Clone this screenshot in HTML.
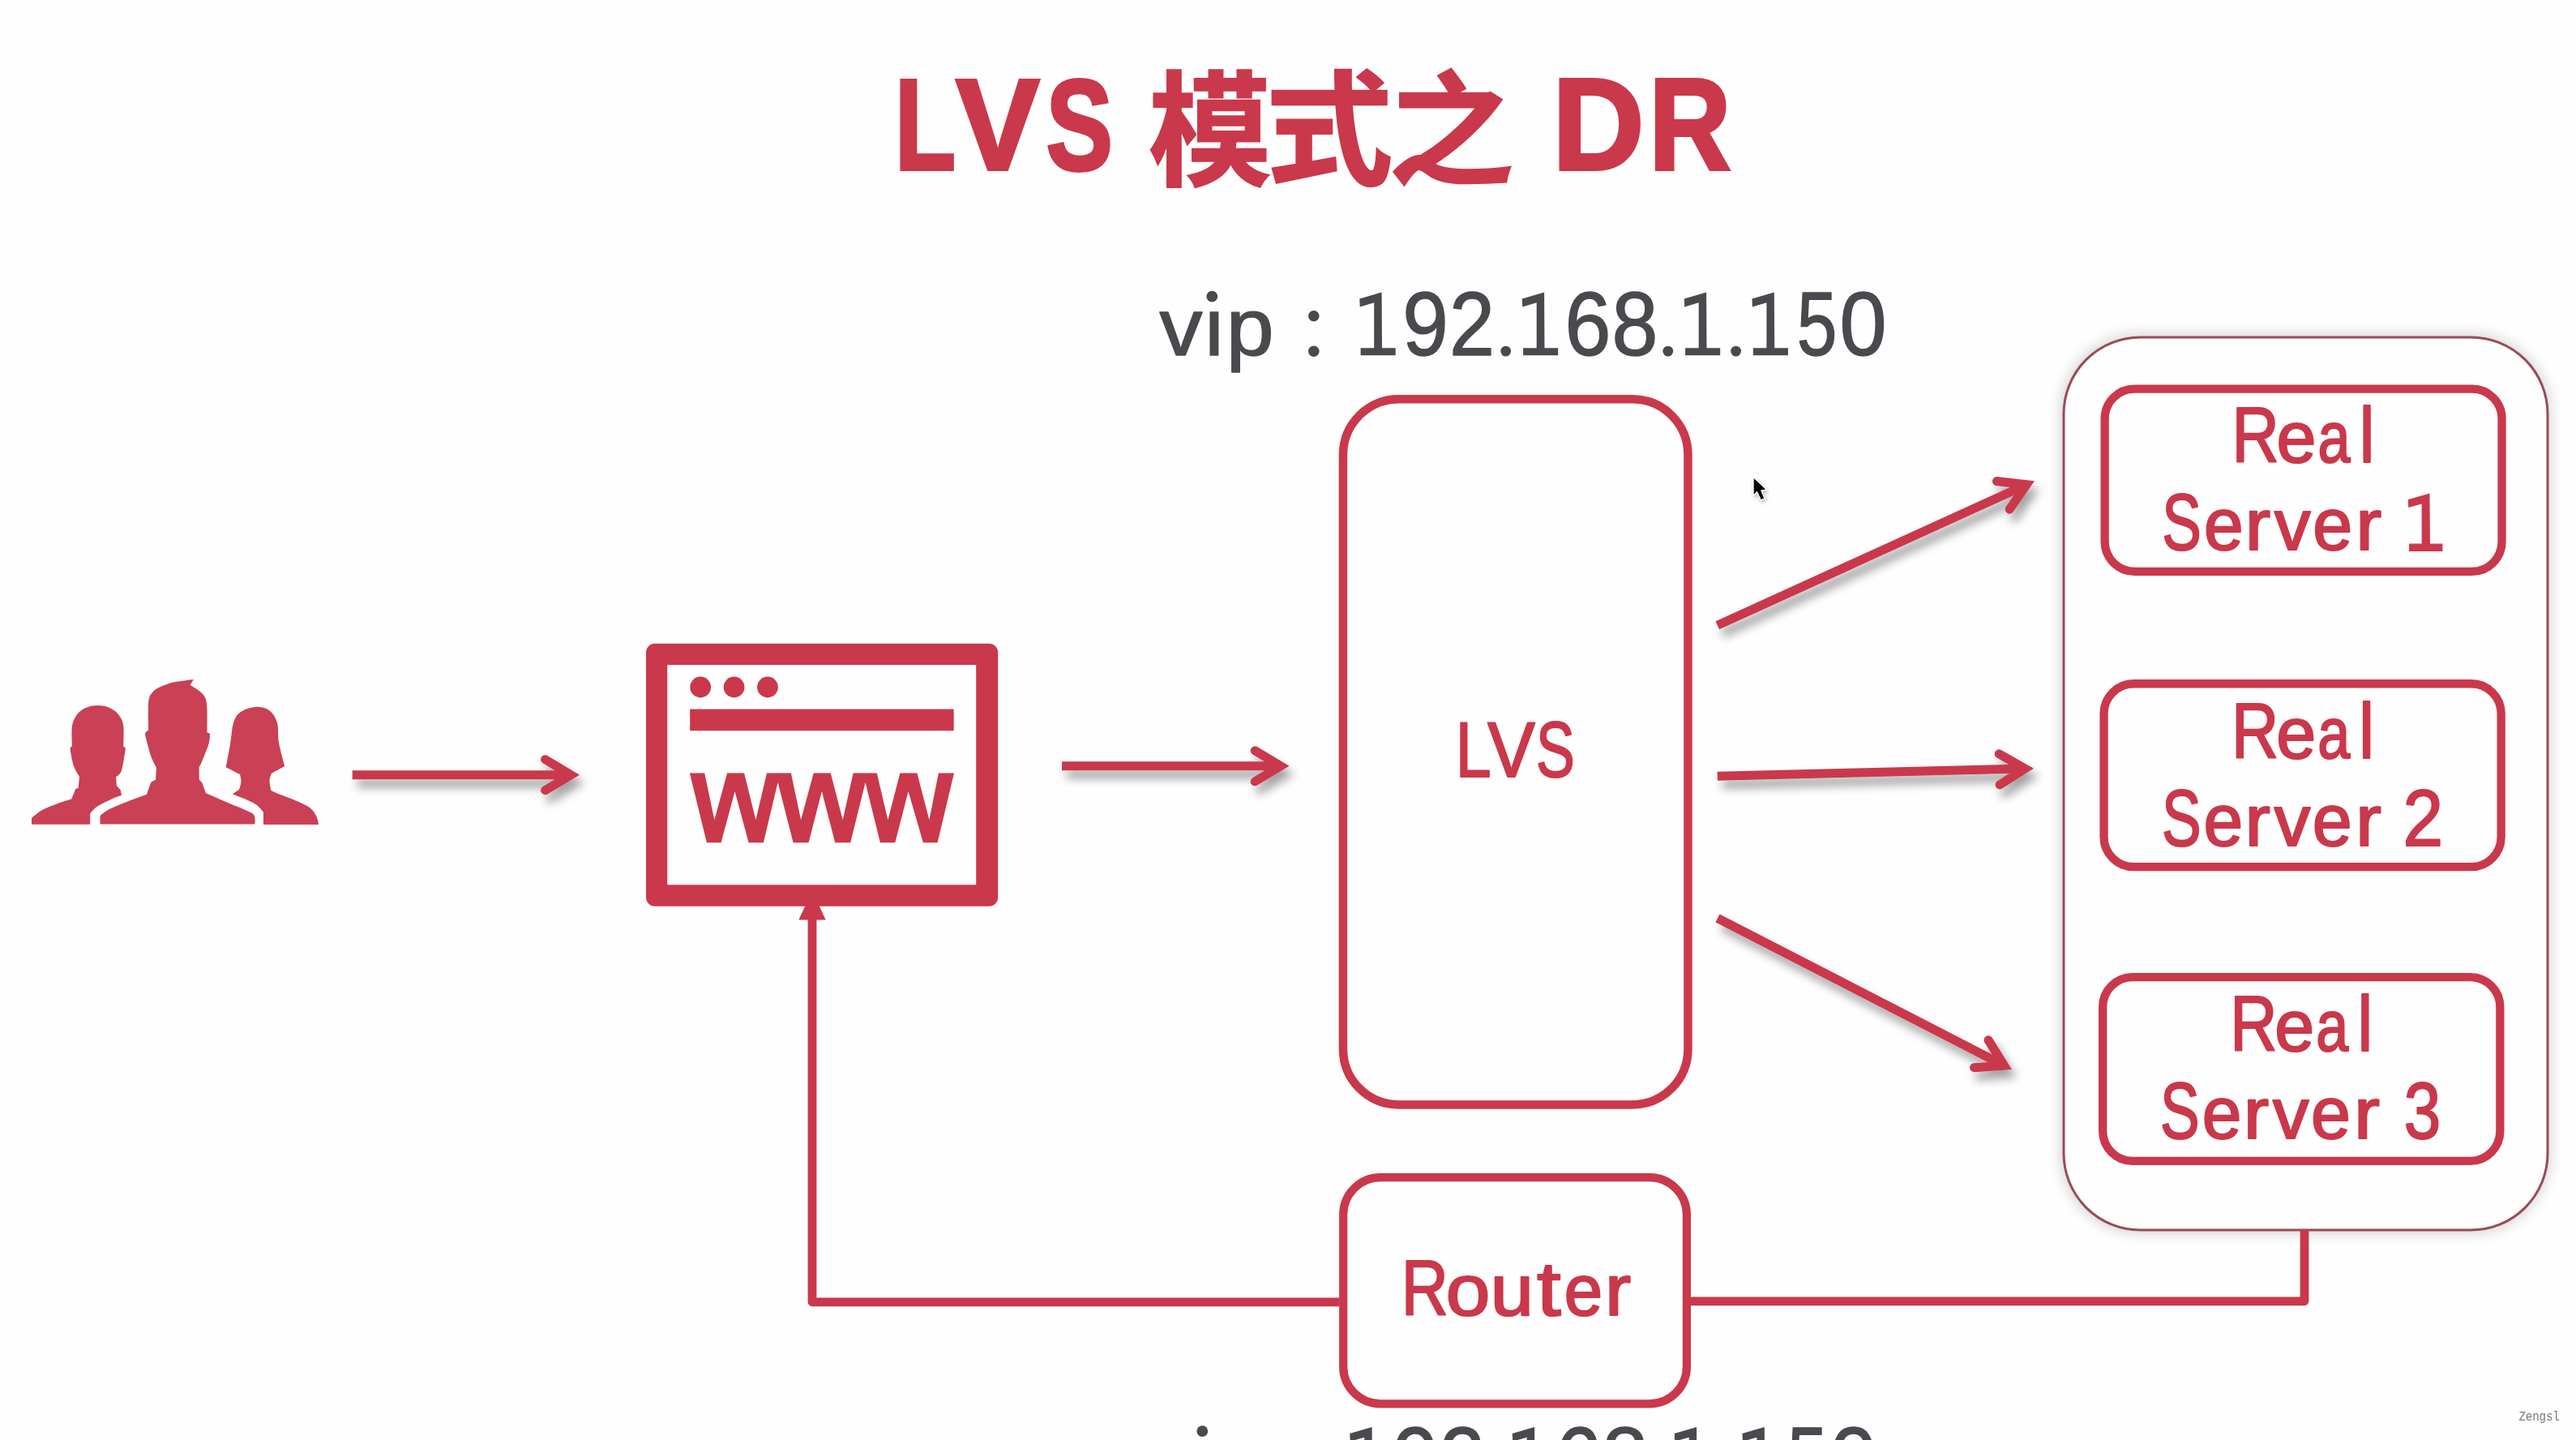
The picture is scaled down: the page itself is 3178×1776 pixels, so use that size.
<!DOCTYPE html><html><head><meta charset="utf-8"><title>LVS DR</title><style>html,body{margin:0;padding:0;background:#fefefe;overflow:hidden}svg{display:block}text{font-kerning:none;letter-spacing:0}</style></head><body>
<svg width="3178" height="1776" viewBox="0 0 3178 1776">
<defs><filter id="ash" filterUnits="userSpaceOnUse" x="0" y="0" width="3178" height="1776"><feDropShadow dx="6" dy="10" stdDeviation="6" flood-color="#000" flood-opacity="0.36"/></filter><filter id="csh" filterUnits="userSpaceOnUse" x="2400" y="300" width="778" height="1300"><feGaussianBlur stdDeviation="8"/></filter><filter id="cursh" filterUnits="userSpaceOnUse" x="2140" y="570" width="60" height="70"><feDropShadow dx="1.5" dy="2.5" stdDeviation="2" flood-color="#000" flood-opacity="0.3"/></filter></defs>
<rect width="3178" height="1776" fill="#fefefe"/>
<text transform="translate(1103.65,208.90) scale(0.7722,1)" font-family='"Liberation Sans", sans-serif' font-weight="bold" font-size="159.74" fill="#CA384B" stroke="#CA384B" stroke-width="4" stroke-linejoin="miter" >L</text>
<text transform="translate(1179.24,208.90) scale(0.9688,1)" font-family='"Liberation Sans", sans-serif' font-weight="bold" font-size="159.74" fill="#CA384B" stroke="#CA384B" stroke-width="4" stroke-linejoin="miter" >V</text>
<text transform="translate(1290.44,208.90) scale(0.7732,1)" font-family='"Liberation Sans", sans-serif' font-weight="bold" font-size="159.74" fill="#CA384B" stroke="#CA384B" stroke-width="4" stroke-linejoin="miter" >S</text>
<path transform="matrix(0.15198,0,0,-0.15457,1416.86,217.49)" d="M512 404H787V360H512ZM512 525H787V482H512ZM720 850V781H604V850H490V781H373V683H490V626H604V683H720V626H836V683H949V781H836V850ZM401 608V277H593C591 257 588 237 585 219H355V120H546C509 68 442 31 317 6C340 -17 368 -61 378 -90C543 -50 625 12 667 99C717 7 793 -57 906 -88C922 -58 955 -12 980 11C890 29 823 66 778 120H953V219H703L710 277H903V608ZM151 850V663H42V552H151V527C123 413 74 284 18 212C38 180 64 125 76 91C103 133 129 190 151 254V-89H264V365C285 323 304 280 315 250L386 334C369 363 293 479 264 517V552H355V663H264V850Z" fill="#CA384B" stroke="#CA384B" stroke-width="1.6" vector-effect="non-scaling-stroke"/>
<path transform="matrix(0.15724,0,0,-0.15468,1561.38,216.48)" d="M543 846C543 790 544 734 546 679H51V562H552C576 207 651 -90 823 -90C918 -90 959 -44 977 147C944 160 899 189 872 217C867 90 855 36 834 36C761 36 699 269 678 562H951V679H856L926 739C897 772 839 819 793 850L714 784C754 754 803 712 831 679H673C671 734 671 790 672 846ZM51 59 84 -62C214 -35 392 2 556 38L548 145L360 111V332H522V448H89V332H240V90C168 78 103 67 51 59Z" fill="#CA384B" stroke="#CA384B" stroke-width="1.6" vector-effect="non-scaling-stroke"/>
<path transform="matrix(0.15564,0,0,-0.15248,1712.52,215.83)" d="M249 157C192 157 113 103 41 26L128 -87C169 -23 214 44 246 44C267 44 301 11 344 -16C413 -57 492 -70 616 -70C716 -70 867 -64 938 -59C940 -27 960 36 972 68C876 54 723 45 621 45C515 45 431 52 368 90C570 223 778 422 904 610L812 670L789 664H553L615 699C591 742 539 812 501 862L393 804C422 762 460 707 484 664H92V546H698C590 410 419 256 255 156Z" fill="#CA384B" stroke="#CA384B" stroke-width="1.6" vector-effect="non-scaling-stroke"/>
<text transform="translate(1915.09,209.00) scale(0.9787,1)" font-family='"Liberation Sans", sans-serif' font-weight="bold" font-size="160.61" fill="#CA384B" stroke="#CA384B" stroke-width="4" stroke-linejoin="miter" >D</text>
<text transform="translate(2034.22,209.00) scale(0.8730,1)" font-family='"Liberation Sans", sans-serif' font-weight="bold" font-size="160.61" fill="#CA384B" stroke="#CA384B" stroke-width="4" stroke-linejoin="miter" >R</text>
<g transform="translate(0,0)">
<text transform="translate(1430.39,438.15) scale(1.0613,1)" font-family='"Liberation Sans", sans-serif' font-weight="normal" font-size="99.81" fill="#4A494E" stroke="#4A494E" stroke-width="1.5" stroke-linejoin="round" >vıp</text>
<circle cx="1495.3" cy="365.7" r="6.9" fill="#4A494E"/>
<circle cx="1620.8" cy="389.8" r="6.8" fill="#4A494E"/><circle cx="1620.8" cy="433.2" r="6.8" fill="#4A494E"/>
<polygon fill="#4A494E" points="1677.3,368.6 1704.6,360.5 1705.0,429.2 1721.7,429.2 1721.7,438.2 1678.6,438.2 1678.6,429.2 1695.2,429.2 1695.2,373.3 1677.7,378.4"/>
<polygon fill="#4A494E" points="1877.8,368.6 1905.1,360.5 1905.5,429.2 1922.2,429.2 1922.2,438.2 1879.1,438.2 1879.1,429.2 1895.7,429.2 1895.7,373.3 1878.2,378.4"/>
<polygon fill="#4A494E" points="2077.8,368.6 2105.1,360.5 2105.5,429.2 2122.2,429.2 2122.2,438.2 2079.1,438.2 2079.1,429.2 2095.7,429.2 2095.7,373.3 2078.2,378.4"/>
<polygon fill="#4A494E" points="2161.5,368.6 2188.8,360.5 2189.2,429.2 2205.9,429.2 2205.9,438.2 2162.8,438.2 2162.8,429.2 2179.4,429.2 2179.4,373.3 2161.9,378.4"/>
<text transform="translate(1730.28,438.15) scale(0.9163,1)" font-family='"Liberation Sans", sans-serif' font-weight="normal" font-size="111.05" fill="#4A494E" stroke="#4A494E" stroke-width="1.5" stroke-linejoin="round" >9</text>
<text transform="translate(1788.08,438.15) scale(0.9073,1)" font-family='"Liberation Sans", sans-serif' font-weight="normal" font-size="111.05" fill="#4A494E" stroke="#4A494E" stroke-width="1.5" stroke-linejoin="round" >2</text>
<text transform="translate(1930.56,438.15) scale(0.9212,1)" font-family='"Liberation Sans", sans-serif' font-weight="normal" font-size="111.05" fill="#4A494E" stroke="#4A494E" stroke-width="1.5" stroke-linejoin="round" >6</text>
<text transform="translate(1988.50,438.15) scale(0.9212,1)" font-family='"Liberation Sans", sans-serif' font-weight="normal" font-size="111.05" fill="#4A494E" stroke="#4A494E" stroke-width="1.5" stroke-linejoin="round" >8</text>
<text transform="translate(2216.68,438.15) scale(0.8034,1)" font-family='"Liberation Sans", sans-serif' font-weight="normal" font-size="111.05" fill="#4A494E" stroke="#4A494E" stroke-width="1.5" stroke-linejoin="round" >5</text>
<text transform="translate(2269.47,438.15) scale(0.9400,1)" font-family='"Liberation Sans", sans-serif' font-weight="normal" font-size="111.05" fill="#4A494E" stroke="#4A494E" stroke-width="1.5" stroke-linejoin="round" >0</text>
<circle cx="1857.7" cy="433.1" r="6.4" fill="#4A494E"/>
<circle cx="2057.8" cy="433.1" r="6.4" fill="#4A494E"/>
<circle cx="2141.6" cy="433.1" r="6.4" fill="#4A494E"/>
</g>
<g transform="translate(-12,1399.4)">
<text transform="translate(1430.39,438.15) scale(1.0613,1)" font-family='"Liberation Sans", sans-serif' font-weight="normal" font-size="99.81" fill="#4A494E" stroke="#4A494E" stroke-width="1.5" stroke-linejoin="round" >vıp</text>
<circle cx="1495.3" cy="365.7" r="6.9" fill="#4A494E"/>
<circle cx="1620.8" cy="389.8" r="6.8" fill="#4A494E"/><circle cx="1620.8" cy="433.2" r="6.8" fill="#4A494E"/>
<polygon fill="#4A494E" points="1677.3,368.6 1704.6,360.5 1705.0,429.2 1721.7,429.2 1721.7,438.2 1678.6,438.2 1678.6,429.2 1695.2,429.2 1695.2,373.3 1677.7,378.4"/>
<polygon fill="#4A494E" points="1877.8,368.6 1905.1,360.5 1905.5,429.2 1922.2,429.2 1922.2,438.2 1879.1,438.2 1879.1,429.2 1895.7,429.2 1895.7,373.3 1878.2,378.4"/>
<polygon fill="#4A494E" points="2077.8,368.6 2105.1,360.5 2105.5,429.2 2122.2,429.2 2122.2,438.2 2079.1,438.2 2079.1,429.2 2095.7,429.2 2095.7,373.3 2078.2,378.4"/>
<polygon fill="#4A494E" points="2161.5,368.6 2188.8,360.5 2189.2,429.2 2205.9,429.2 2205.9,438.2 2162.8,438.2 2162.8,429.2 2179.4,429.2 2179.4,373.3 2161.9,378.4"/>
<text transform="translate(1730.28,438.15) scale(0.9163,1)" font-family='"Liberation Sans", sans-serif' font-weight="normal" font-size="111.05" fill="#4A494E" stroke="#4A494E" stroke-width="1.5" stroke-linejoin="round" >9</text>
<text transform="translate(1788.08,438.15) scale(0.9073,1)" font-family='"Liberation Sans", sans-serif' font-weight="normal" font-size="111.05" fill="#4A494E" stroke="#4A494E" stroke-width="1.5" stroke-linejoin="round" >2</text>
<text transform="translate(1930.56,438.15) scale(0.9212,1)" font-family='"Liberation Sans", sans-serif' font-weight="normal" font-size="111.05" fill="#4A494E" stroke="#4A494E" stroke-width="1.5" stroke-linejoin="round" >6</text>
<text transform="translate(1988.50,438.15) scale(0.9212,1)" font-family='"Liberation Sans", sans-serif' font-weight="normal" font-size="111.05" fill="#4A494E" stroke="#4A494E" stroke-width="1.5" stroke-linejoin="round" >8</text>
<text transform="translate(2216.68,438.15) scale(0.8034,1)" font-family='"Liberation Sans", sans-serif' font-weight="normal" font-size="111.05" fill="#4A494E" stroke="#4A494E" stroke-width="1.5" stroke-linejoin="round" >5</text>
<text transform="translate(2269.47,438.15) scale(0.9400,1)" font-family='"Liberation Sans", sans-serif' font-weight="normal" font-size="111.05" fill="#4A494E" stroke="#4A494E" stroke-width="1.5" stroke-linejoin="round" >0</text>
<circle cx="1857.7" cy="433.1" r="6.4" fill="#4A494E"/>
<circle cx="2057.8" cy="433.1" r="6.4" fill="#4A494E"/>
<circle cx="2141.6" cy="433.1" r="6.4" fill="#4A494E"/>
</g>
<rect x="2541" y="411" width="606" height="1111" rx="98" fill="#000" opacity="0.15" filter="url(#csh)"/>
<rect x="2546.00" y="416.00" width="597.00" height="1101.00" rx="94.50" fill="#fefefe" stroke="#9A4A57" stroke-width="3" />
<rect x="2596.65" y="479.55" width="489.90" height="225.30" rx="36.85" fill="none" stroke="#CA384B" stroke-width="10.3" />
<g transform="translate(0,0)">
<text transform="translate(2753.38,569.90) scale(0.8334,1)" font-family='"Liberation Sans", sans-serif' font-weight="normal" font-size="96.80" fill="#CA384B" stroke="#CA384B" stroke-width="2.2" stroke-linejoin="round" >R</text>
<text transform="translate(2808.56,569.90) scale(0.9908,1)" font-family='"Liberation Sans", sans-serif' font-weight="normal" font-size="88.83" fill="#CA384B" stroke="#CA384B" stroke-width="2.2" stroke-linejoin="round" >e</text>
<text transform="translate(2859.45,569.90) scale(0.8087,1)" font-family='"Liberation Sans", sans-serif' font-weight="normal" font-size="88.83" fill="#CA384B" stroke="#CA384B" stroke-width="2.2" stroke-linejoin="round" >a</text>
<text transform="translate(2910.63,569.90) scale(0.8728,1)" font-family='"Liberation Sans", sans-serif' font-weight="normal" font-size="96.47" fill="#CA384B" stroke="#CA384B" stroke-width="2.2" stroke-linejoin="round" >l</text>
<text transform="translate(2667.19,678.20) scale(0.7474,1)" font-family='"Liberation Sans", sans-serif' font-weight="normal" font-size="97.39" fill="#CA384B" stroke="#CA384B" stroke-width="2.2" stroke-linejoin="round" >S</text>
<text transform="translate(2718.88,678.20) scale(0.9718,1)" font-family='"Liberation Sans", sans-serif' font-weight="normal" font-size="90.13" fill="#CA384B" stroke="#CA384B" stroke-width="2.2" stroke-linejoin="round" >e</text>
<text transform="translate(2769.83,678.20) scale(1.0517,1)" font-family='"Liberation Sans", sans-serif' font-weight="normal" font-size="89.76" fill="#CA384B" stroke="#CA384B" stroke-width="2.2" stroke-linejoin="round" >r</text>
<text transform="translate(2806.10,678.20) scale(0.9985,1)" font-family='"Liberation Sans", sans-serif' font-weight="normal" font-size="89.15" fill="#CA384B" stroke="#CA384B" stroke-width="2.2" stroke-linejoin="round" >v</text>
<text transform="translate(2853.16,678.20) scale(0.9765,1)" font-family='"Liberation Sans", sans-serif' font-weight="normal" font-size="90.13" fill="#CA384B" stroke="#CA384B" stroke-width="2.2" stroke-linejoin="round" >e</text>
<text transform="translate(2906.22,678.20) scale(1.0695,1)" font-family='"Liberation Sans", sans-serif' font-weight="normal" font-size="89.76" fill="#CA384B" stroke="#CA384B" stroke-width="2.2" stroke-linejoin="round" >r</text>
<polygon fill="#CA384B" stroke="#CA384B" stroke-width="1.2" points="2971.5,616.5 2996.9,609.2 2997.3,671.2 3012.8,671.2 3012.8,679.3 2972.7,679.3 2972.7,671.2 2988.2,671.2 2988.2,620.7 2971.9,625.3"/>
</g>
<rect x="2595.55" y="843.25" width="490.10" height="225.90" rx="36.85" fill="none" stroke="#CA384B" stroke-width="10.3" />
<g transform="translate(-0.3,0)">
<text transform="translate(2753.38,934.60) scale(0.8334,1)" font-family='"Liberation Sans", sans-serif' font-weight="normal" font-size="96.80" fill="#CA384B" stroke="#CA384B" stroke-width="2.2" stroke-linejoin="round" >R</text>
<text transform="translate(2808.56,934.60) scale(0.9908,1)" font-family='"Liberation Sans", sans-serif' font-weight="normal" font-size="88.83" fill="#CA384B" stroke="#CA384B" stroke-width="2.2" stroke-linejoin="round" >e</text>
<text transform="translate(2859.45,934.60) scale(0.8087,1)" font-family='"Liberation Sans", sans-serif' font-weight="normal" font-size="88.83" fill="#CA384B" stroke="#CA384B" stroke-width="2.2" stroke-linejoin="round" >a</text>
<text transform="translate(2910.63,934.60) scale(0.8728,1)" font-family='"Liberation Sans", sans-serif' font-weight="normal" font-size="96.47" fill="#CA384B" stroke="#CA384B" stroke-width="2.2" stroke-linejoin="round" >l</text>
<text transform="translate(2667.19,1042.50) scale(0.7474,1)" font-family='"Liberation Sans", sans-serif' font-weight="normal" font-size="97.39" fill="#CA384B" stroke="#CA384B" stroke-width="2.2" stroke-linejoin="round" >S</text>
<text transform="translate(2718.88,1042.50) scale(0.9718,1)" font-family='"Liberation Sans", sans-serif' font-weight="normal" font-size="90.13" fill="#CA384B" stroke="#CA384B" stroke-width="2.2" stroke-linejoin="round" >e</text>
<text transform="translate(2769.83,1042.50) scale(1.0517,1)" font-family='"Liberation Sans", sans-serif' font-weight="normal" font-size="89.76" fill="#CA384B" stroke="#CA384B" stroke-width="2.2" stroke-linejoin="round" >r</text>
<text transform="translate(2806.10,1042.50) scale(0.9985,1)" font-family='"Liberation Sans", sans-serif' font-weight="normal" font-size="89.15" fill="#CA384B" stroke="#CA384B" stroke-width="2.2" stroke-linejoin="round" >v</text>
<text transform="translate(2853.16,1042.50) scale(0.9765,1)" font-family='"Liberation Sans", sans-serif' font-weight="normal" font-size="90.13" fill="#CA384B" stroke="#CA384B" stroke-width="2.2" stroke-linejoin="round" >e</text>
<text transform="translate(2906.22,1042.50) scale(1.0695,1)" font-family='"Liberation Sans", sans-serif' font-weight="normal" font-size="89.76" fill="#CA384B" stroke="#CA384B" stroke-width="2.2" stroke-linejoin="round" >r</text>
<text transform="translate(2964.72,1042.50) scale(0.9151,1)" font-family='"Liberation Sans", sans-serif' font-weight="normal" font-size="97.39" fill="#CA384B" stroke="#CA384B" stroke-width="2.2" stroke-linejoin="round" >2</text>
</g>
<rect x="2594.15" y="1205.15" width="490.20" height="226.70" rx="36.85" fill="none" stroke="#CA384B" stroke-width="10.3" />
<g transform="translate(-2.2,0)">
<text transform="translate(2753.38,1296.10) scale(0.8334,1)" font-family='"Liberation Sans", sans-serif' font-weight="normal" font-size="96.80" fill="#CA384B" stroke="#CA384B" stroke-width="2.2" stroke-linejoin="round" >R</text>
<text transform="translate(2808.56,1296.10) scale(0.9908,1)" font-family='"Liberation Sans", sans-serif' font-weight="normal" font-size="88.83" fill="#CA384B" stroke="#CA384B" stroke-width="2.2" stroke-linejoin="round" >e</text>
<text transform="translate(2859.45,1296.10) scale(0.8087,1)" font-family='"Liberation Sans", sans-serif' font-weight="normal" font-size="88.83" fill="#CA384B" stroke="#CA384B" stroke-width="2.2" stroke-linejoin="round" >a</text>
<text transform="translate(2910.63,1296.10) scale(0.8728,1)" font-family='"Liberation Sans", sans-serif' font-weight="normal" font-size="96.47" fill="#CA384B" stroke="#CA384B" stroke-width="2.2" stroke-linejoin="round" >l</text>
<text transform="translate(2667.19,1404.40) scale(0.7474,1)" font-family='"Liberation Sans", sans-serif' font-weight="normal" font-size="97.39" fill="#CA384B" stroke="#CA384B" stroke-width="2.2" stroke-linejoin="round" >S</text>
<text transform="translate(2718.88,1404.40) scale(0.9718,1)" font-family='"Liberation Sans", sans-serif' font-weight="normal" font-size="90.13" fill="#CA384B" stroke="#CA384B" stroke-width="2.2" stroke-linejoin="round" >e</text>
<text transform="translate(2769.83,1404.40) scale(1.0517,1)" font-family='"Liberation Sans", sans-serif' font-weight="normal" font-size="89.76" fill="#CA384B" stroke="#CA384B" stroke-width="2.2" stroke-linejoin="round" >r</text>
<text transform="translate(2806.10,1404.40) scale(0.9985,1)" font-family='"Liberation Sans", sans-serif' font-weight="normal" font-size="89.15" fill="#CA384B" stroke="#CA384B" stroke-width="2.2" stroke-linejoin="round" >v</text>
<text transform="translate(2853.16,1404.40) scale(0.9765,1)" font-family='"Liberation Sans", sans-serif' font-weight="normal" font-size="90.13" fill="#CA384B" stroke="#CA384B" stroke-width="2.2" stroke-linejoin="round" >e</text>
<text transform="translate(2906.22,1404.40) scale(1.0695,1)" font-family='"Liberation Sans", sans-serif' font-weight="normal" font-size="89.76" fill="#CA384B" stroke="#CA384B" stroke-width="2.2" stroke-linejoin="round" >r</text>
<text transform="translate(2967.99,1404.40) scale(0.8392,1)" font-family='"Liberation Sans", sans-serif' font-weight="normal" font-size="97.39" fill="#CA384B" stroke="#CA384B" stroke-width="2.2" stroke-linejoin="round" >3</text>
</g>
<rect x="1656.95" y="492.25" width="425.50" height="870.20" rx="68.75" fill="none" stroke="#CA384B" stroke-width="10.5" />
<text transform="translate(1795.73,958.20) scale(0.8178,1)" font-family='"Liberation Sans", sans-serif' font-weight="normal" font-size="96.51" fill="#CA384B" stroke="#CA384B" stroke-width="2.2" stroke-linejoin="round" >L</text>
<text transform="translate(1835.21,958.20) scale(0.9099,1)" font-family='"Liberation Sans", sans-serif' font-weight="normal" font-size="96.51" fill="#CA384B" stroke="#CA384B" stroke-width="2.2" stroke-linejoin="round" >V</text>
<text transform="translate(1895.05,958.20) scale(0.7370,1)" font-family='"Liberation Sans", sans-serif' font-weight="normal" font-size="97.10" fill="#CA384B" stroke="#CA384B" stroke-width="2.2" stroke-linejoin="round" >S</text>
<rect x="1657.20" y="1452.20" width="423.70" height="279.20" rx="45.90" fill="none" stroke="#CA384B" stroke-width="10.2" />
<text transform="translate(1728.80,1622.40) scale(0.8354,1)" font-family='"Liberation Sans", sans-serif' font-weight="normal" font-size="96.37" fill="#CA384B" stroke="#CA384B" stroke-width="2.2" stroke-linejoin="round" >R</text>
<text transform="translate(1783.87,1622.40) scale(1.1085,1)" font-family='"Liberation Sans", sans-serif' font-weight="normal" font-size="88.65" fill="#CA384B" stroke="#CA384B" stroke-width="2.2" stroke-linejoin="round" >o</text>
<text transform="translate(1838.78,1622.40) scale(1.0747,1)" font-family='"Liberation Sans", sans-serif' font-weight="normal" font-size="89.15" fill="#CA384B" stroke="#CA384B" stroke-width="2.2" stroke-linejoin="round" >u</text>
<text transform="translate(1895.88,1622.40) scale(1.1405,1)" font-family='"Liberation Sans", sans-serif' font-weight="normal" font-size="93.74" fill="#CA384B" stroke="#CA384B" stroke-width="2.2" stroke-linejoin="round" >t</text>
<text transform="translate(1929.78,1622.40) scale(0.9616,1)" font-family='"Liberation Sans", sans-serif' font-weight="normal" font-size="88.65" fill="#CA384B" stroke="#CA384B" stroke-width="2.2" stroke-linejoin="round" >e</text>
<text transform="translate(1980.10,1622.40) scale(1.0875,1)" font-family='"Liberation Sans", sans-serif' font-weight="normal" font-size="88.65" fill="#CA384B" stroke="#CA384B" stroke-width="2.2" stroke-linejoin="round" >r</text>
<path d="M1002,1130 L1002,1605.8 L1652,1605.8" stroke="#CA384B" stroke-width="10.8" fill="none" stroke-linejoin="round"/>
<path d="M2086,1604.8 L2843,1604.8 L2843,1517" stroke="#CA384B" stroke-width="10.8" fill="none" stroke-linejoin="round"/>
<polygon points="1002,1099 1018.7,1134.4 985.3,1134.4" fill="#CA384B"/>
<g filter="url(#ash)">
<path d="M434.70,955.70 L702.32,955.70" stroke="#CA384B" stroke-width="11" fill="none"/>
<path d="M672.61,936.64 L704.32,955.70 L672.61,974.76" stroke="#CA384B" stroke-width="11" fill="none" stroke-linecap="round" stroke-linejoin="miter" stroke-miterlimit="10"/>
</g>
<g filter="url(#ash)">
<path d="M1310.00,944.80 L1577.92,944.80" stroke="#CA384B" stroke-width="11" fill="none"/>
<path d="M1548.21,925.74 L1579.92,944.80 L1548.21,963.86" stroke="#CA384B" stroke-width="11" fill="none" stroke-linecap="round" stroke-linejoin="miter" stroke-miterlimit="10"/>
</g>
<g filter="url(#ash)">
<path d="M2118.80,771.30 L2498.36,598.55" stroke="#CA384B" stroke-width="11" fill="none"/>
<path d="M2463.42,593.52 L2500.18,597.72 L2479.21,628.21" stroke="#CA384B" stroke-width="11" fill="none" stroke-linecap="round" stroke-linejoin="miter" stroke-miterlimit="10"/>
</g>
<g filter="url(#ash)">
<path d="M2118.80,957.20 L2496.32,948.11" stroke="#CA384B" stroke-width="11" fill="none"/>
<path d="M2466.16,929.77 L2498.32,948.06 L2467.08,967.87" stroke="#CA384B" stroke-width="11" fill="none" stroke-linecap="round" stroke-linejoin="miter" stroke-miterlimit="10"/>
</g>
<g filter="url(#ash)">
<path d="M2119.00,1132.50 L2470.72,1313.30" stroke="#CA384B" stroke-width="11" fill="none"/>
<path d="M2453.01,1282.77 L2472.50,1314.22 L2435.58,1316.67" stroke="#CA384B" stroke-width="11" fill="none" stroke-linecap="round" stroke-linejoin="miter" stroke-miterlimit="10"/>
</g>
<path fill="#CA384B" fill-rule="evenodd" d="M808,793.7 H1220.2 A11,11 0 0 1 1231.2,804.7 V1106.7 A11,11 0 0 1 1220.2,1117.7 H808 A11,11 0 0 1 797,1106.7 V804.7 A11,11 0 0 1 808,793.7 Z M823.3,820 V1091.2 H1204.2 V820 Z"/>
<circle cx="864.2" cy="847.5" r="12.9" fill="#CA384B"/>
<circle cx="905.6" cy="847.5" r="12.9" fill="#CA384B"/>
<circle cx="947.0" cy="847.5" r="12.9" fill="#CA384B"/>
<rect x="851.2" y="874.6" width="325.5" height="26.6" fill="#CA384B"/>
<polygon points="850.9,953.6 869.2,953.6 881.4,1011.3 897.1,953.6 918.1,953.6 932.4,1011.3 946.0,953.6 975.9,953.6 988.1,1011.3 1003.7,953.6 1024.8,953.6 1039.7,1011.3 1052.6,953.6 1081.8,953.6 1095.4,1011.3 1110.4,953.6 1131.4,953.6 1146.4,1011.3 1157.9,953.6 1177.0,953.6 1156.6,1039.2 1138.9,1039.2 1120.6,976.0 1104.3,1039.2 1085.9,1039.2 1067.6,965.1 1049.2,1039.2 1030.2,1039.2 1013.9,976.0 997.6,1039.2 978.6,1039.2 959.6,965.1 941.9,1039.2 923.6,1039.2 906.6,976.0 889.6,1039.2 871.9,1039.2" fill="#CA384B"/>
<path fill="#CA4055" d="M39.0,1016.8 C39.0,1016.8 39.0,1009.0 39.0,1009.0 C39.0,1009.0 46.8,1001.9 52.0,999.0 C57.2,996.1 64.0,993.7 70.0,991.5 C76.0,989.3 88.3,985.6 88.3,985.6 C88.3,985.6 93.2,973.0 93.2,973.0 C93.2,973.0 96.7,971.7 96.7,971.7 C96.7,971.7 98.0,957.8 98.0,957.8 C98.0,957.8 92.9,950.4 91.1,945.3 C89.3,940.2 87.7,930.9 87.0,927.0 C86.3,923.1 87.0,921.7 87.0,921.7 C87.0,921.7 89.0,920.0 89.0,920.0 C89.0,920.0 87.8,901.7 89.0,895.0 C90.2,888.3 93.0,883.8 96.0,880.0 C99.0,876.2 103.0,874.2 107.0,872.5 C111.0,870.8 115.8,870.0 120.3,870.0 C124.8,870.0 129.7,870.7 134.0,872.5 C138.3,874.3 143.0,877.2 146.0,881.0 C149.0,884.8 151.2,888.5 152.2,895.0 C153.2,901.5 152.2,920.0 152.2,920.0 C152.2,920.0 155.0,923.0 155.0,923.0 C155.0,923.0 153.9,930.2 153.0,935.0 C152.1,939.8 151.0,948.2 149.4,952.0 C147.8,955.8 143.2,957.8 143.2,957.8 C143.2,957.8 143.9,968.9 143.9,968.9 C143.9,968.9 148.8,974.4 148.8,974.4 C148.8,974.4 150.0,980.7 150.0,980.7 C150.0,980.7 141.0,984.0 141.0,984.0 C141.0,984.0 125.6,991.2 121.0,994.0 C116.4,996.8 114.9,999.1 113.3,1000.8 C111.7,1002.5 111.2,1004.0 111.2,1004.0 C111.2,1004.0 111.2,1016.8 111.2,1016.8 C111.2,1016.8 39.0,1016.8 39.0,1016.8Z"/>
<path fill="#CA4055" d="M123.5,1016.5 C123.5,1016.5 123.5,1006.0 123.5,1006.0 C123.5,1006.0 128.9,1001.1 135.0,998.0 C141.1,994.9 152.3,990.5 160.0,987.5 C167.7,984.5 181.1,979.7 181.1,979.7 C181.1,979.7 185.3,967.2 185.3,967.2 C185.3,967.2 186.7,964.4 186.7,964.4 C186.7,964.4 192.2,961.7 192.2,961.7 C192.2,961.7 192.9,946.4 192.9,946.4 C192.9,946.4 188.9,940.1 186.7,933.9 C184.5,927.6 180.9,914.0 179.7,908.9 C178.5,903.8 179.7,903.3 179.7,903.3 C179.7,903.3 183.2,900.6 183.2,900.6 C183.2,900.6 182.4,873.8 183.2,866.0 C184.0,858.2 185.5,857.2 188.0,854.0 C190.5,850.8 193.7,849.1 198.0,847.0 C202.3,844.9 208.8,842.8 214.0,841.5 C219.2,840.2 224.9,839.8 229.0,839.2 C233.1,838.6 238.8,838.0 238.8,838.0 C238.8,838.0 234.6,845.0 234.6,845.0 C234.6,845.0 243.9,850.3 247.0,853.0 C250.1,855.7 251.9,857.5 253.3,861.0 C254.7,864.5 255.1,867.0 255.4,874.0 C255.8,881.0 255.4,903.3 255.4,903.3 C255.4,903.3 258.9,904.7 258.9,904.7 C258.9,904.7 259.4,911.0 257.5,917.2 C255.7,923.5 249.8,937.6 247.8,942.2 C245.8,946.8 245.7,945.0 245.7,945.0 C245.7,945.0 245.7,961.7 245.7,961.7 C245.7,961.7 249.2,965.1 249.2,965.1 C249.2,965.1 254.0,978.3 254.0,978.3 C254.0,978.3 271.3,985.8 280.0,989.5 C288.7,993.2 300.4,997.8 306.0,1000.5 C311.6,1003.2 312.4,1003.3 313.8,1006.0 C315.1,1008.7 314.4,1016.5 314.4,1016.5 C314.4,1016.5 123.5,1016.5 123.5,1016.5Z"/>
<path fill="#CA4055" d="M325.0,1016.9 C325.0,1016.9 325.0,1001.9 325.0,1001.9 C325.0,1001.9 320.4,995.4 316.2,992.5 C312.1,989.6 304.9,986.7 300.0,984.5 C295.1,982.3 286.9,979.4 286.9,979.4 C286.9,979.4 295.0,973.8 295.0,973.8 C295.0,973.8 297.3,967.1 297.5,964.0 C297.7,960.9 296.0,955.0 296.0,955.0 C296.0,955.0 278.8,946.2 278.8,946.2 C278.8,946.2 282.4,927.2 284.0,918.0 C285.6,908.8 285.9,897.9 288.1,891.2 C290.3,884.6 292.5,881.2 297.0,878.0 C301.5,874.8 309.2,872.2 315.0,871.9 C320.8,871.6 327.5,872.8 332.0,876.0 C336.5,879.2 339.9,884.6 341.9,891.2 C343.9,897.9 342.4,907.0 344.0,916.0 C345.6,925.0 351.2,945.0 351.2,945.0 C351.2,945.0 335.0,953.8 335.0,953.8 C335.0,953.8 332.6,959.0 332.5,962.5 C332.4,966.0 334.4,975.0 334.4,975.0 C334.4,975.0 342.5,978.8 342.5,978.8 C342.5,978.8 358.4,984.6 365.0,987.5 C371.6,990.4 377.8,992.9 382.0,996.0 C386.2,999.1 388.1,1002.5 390.0,1006.0 C391.9,1009.5 393.1,1016.9 393.1,1016.9 C393.1,1016.9 325.0,1016.9 325.0,1016.9Z"/>
<polygon points="2163.7,589.9 2178.2,603.6 2172.0,604.4 2176.2,614.6 2172.6,616.0 2167.8,605.8 2163.7,609.7" fill="#000" stroke="#fff" stroke-width="2.6" stroke-linejoin="round" paint-order="stroke" filter="url(#cursh)"/>
<text transform="translate(3107.40,1751.90) scale(0.8693,1)" font-family='"Liberation Mono", monospace' font-weight="normal" font-size="16.09" fill="#7a7a7a" >Zengsl</text>
</svg></body></html>
